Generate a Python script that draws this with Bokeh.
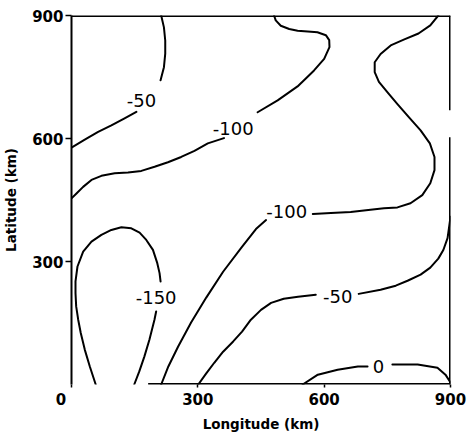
import math
from bokeh.plotting import figure
from bokeh.models import Range1d, FixedTicker
from bokeh.core.properties import value
from bokeh.embed import file_html
from bokeh.resources import INLINE

nan = math.nan

# Axis ticks (km)
x_ticks = [0, 300, 600, 900]
y_ticks = [300, 600, 900]
origin_label = "0"

# Contour lines (km); nan = gap where the label sits
c50a_x = [213, 219.5, 222.6, 222.6, 219.5, 211.5, nan, 154, 126, 94.7, 63.2, 31.5, 0]
c50a_y = [900, 871, 839, 807, 774, 742, nan, 665, 649, 632, 616, 597, 578]

c100a_x = [0, 11.8, 27.6, 47.4, 71, 102.6, 134.2, 165.8, 197.3, 229, 260.5, 292, 323.7, 362, nan,
           442, 489.5, 536.8, 576, 600, 612.6, 612, 604, 584, 561, 537, 517, 497, 485, 481]
c100a_y = [454, 466, 482, 499, 509, 515, 517, 521, 531, 542, 555, 570, 588, 601, nan,
           664, 693, 727, 766, 794, 823, 840, 852, 859, 861, 863, 867, 875, 888, 900]

c100b_x = [871, 852, 824, 789, 758, 734, 720, 720, 730, 750, 773, 801, 829, 851, 862, 862,
           852, 833, 805, 774, 742, 710, 663, 616, 573, nan,
           462, 438, 403, 360, 320, 284, 253, 230, 213]
c100b_y = [900, 876, 856, 841, 827, 806, 786, 762, 738, 713, 685, 652, 620, 588, 555, 523,
           491, 462, 442, 432, 430, 426, 421, 418, 416, nan,
           401, 379, 333, 275, 212, 151, 92, 44, 0]

c50b_x = [301, 320, 339, 360, 384, 405, 426, 450, 474, 504, 538, 580, nan,
          682, 734, 770, 798, 829, 852, 871, 883, 893, 897, 900]
c50b_y = [0, 27, 53, 80, 105, 129, 158, 182, 199, 209, 214, 219, nan,
          221, 231, 241, 253, 268, 285, 307, 328, 357, 386, 409]

c150_x = [57.5, 43.3, 31.5, 22.0, 15.9, 11.1, 9.5, 9.5, 14.2, 27.7, 47.4, 71, 94.7, 118.4,
          142.1, 161.7, 177.6, 193.4, 203.7, 209.1, 211.5, nan, 201, 197, 185, 173, 161, 149]
c150_y = [0, 44.6, 85.1, 125.6, 158, 190.5, 222.9, 251.3, 287.8, 324.2, 348.6, 364.8, 377, 383.5,
          381, 370.4, 352.6, 328.3, 295.9, 271.6, 251.3, nan, 178, 158, 109, 68, 32, 0]

c0_x = [549, 585, 632, 680, 703, nan, 762, 822, 869, 888, 900]
c0_y = [0, 24, 36, 44, 44, nan, 49, 49, 41, 24, 5]

contours = [(c50a_x, c50a_y), (c100a_x, c100a_y), (c100b_x, c100b_y),
            (c50b_x, c50b_y), (c150_x, c150_y), (c0_x, c0_y)]

# Contour labels
label_text = ["-50", "-100", "-100", "-50", "-150", "0"]
label_x = [166, 384, 511, 632, 201, 729]
label_y = [693, 625, 421, 214, 212, 44]

# Frame pieces (scan shows gaps on the right and lower-left)
frame_x0 = [0, 900, 900, 182]
frame_y0 = [900, 0, 669, 0]
frame_x1 = [900, 900, 900, 900]
frame_y1 = [900, 603, 900, 0]

p = figure(width=472, height=434, output_backend="svg", toolbar_location=None,
           x_range=Range1d(0, 900), y_range=Range1d(0, 900),
           min_border_left=70, min_border_right=22, min_border_top=15,
           min_border_bottom=49, background_fill_color="white",
           border_fill_color="white")
p.grid.visible = False
p.outline_line_color = None

tick_font = "DejaVu Sans"
for ax in (p.xaxis[0], p.yaxis[0]):
    ax.major_label_text_font = tick_font
    ax.major_label_text_font_size = "15px"
    ax.major_label_text_font_style = "bold"
    ax.major_label_text_color = "black"
    ax.minor_tick_line_color = None
    ax.major_tick_line_color = "black"
    ax.major_tick_line_width = 1.5
    ax.major_tick_in = 0
    ax.axis_label_text_font = tick_font
    ax.axis_label_text_font_size = "13.5px"
    ax.axis_label_text_font_style = "bold"
    ax.axis_label_text_color = "black"

p.xaxis.ticker = FixedTicker(ticks=x_ticks)
# origin label sits down-left of the corner: pad with no-break spaces
p.xaxis.major_label_overrides = {0: origin_label + "\u00a0\u00a0\u00a0\u00a0"}
p.yaxis.ticker = FixedTicker(ticks=y_ticks)
p.xaxis.axis_line_color = None
p.xaxis.major_tick_out = 3
p.xaxis.major_label_standoff = 3
p.xaxis.axis_label = "Longitude (km)"
p.xaxis.axis_label_standoff = 4
p.yaxis.axis_line_color = "black"
p.yaxis.axis_line_width = 2
p.yaxis.major_tick_out = 6
p.yaxis.major_label_standoff = 2
p.yaxis.axis_label = "Latitude (km)"
p.yaxis.axis_label_standoff = 10

p.segment(x0=frame_x0, y0=frame_y0, x1=frame_x1, y1=frame_y1,
          line_color="black", line_width=3)

for cx, cy in contours:
    p.line(cx, cy, line_color="black", line_width=2, line_join="round", line_cap="round")

p.text(x=label_x, y=label_y, text=label_text, text_font=value("DejaVu Sans"),
       text_font_size="18px", text_align="center", text_baseline="middle",
       text_color="black")

open("out.html", "w").write(file_html(p, INLINE))
